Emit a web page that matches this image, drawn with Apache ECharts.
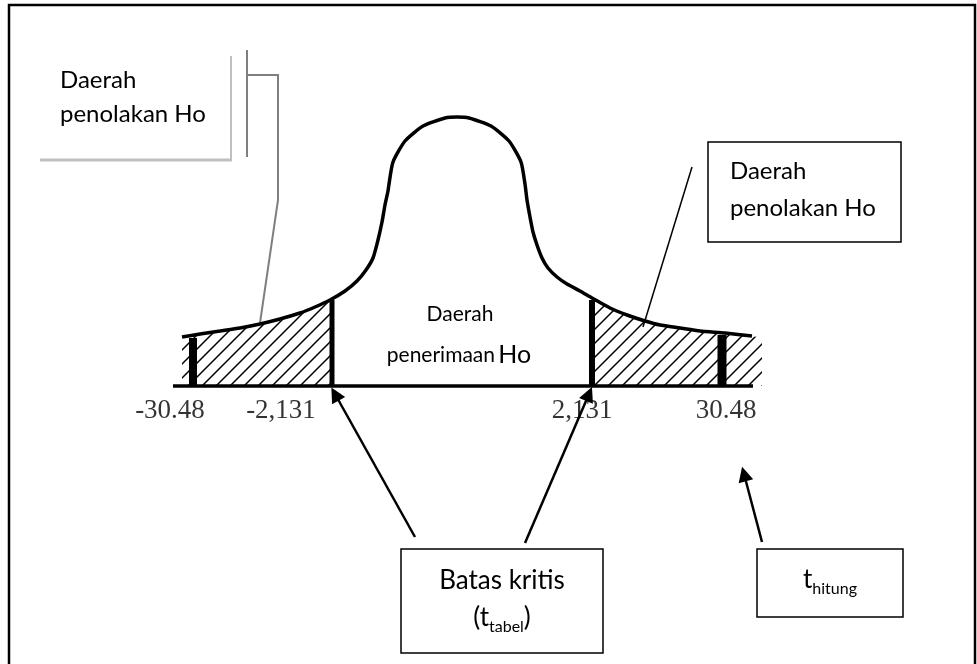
<!DOCTYPE html>
<html>
<head>
<meta charset="utf-8">
<script src="https://cdn.jsdelivr.net/npm/echarts@6/dist/echarts.min.js"></script>
<style>
  html, body { margin: 0; padding: 0; background: #fff; }
  #chart { width: 977px; height: 664px; }
</style>
</head>
<body>
<div id="chart"></div>
<script>
// sketch units: the diagram is laid out on a 977 x 664 plane, y grows downward
const baseY = 386;
const axisX = [173, 753];

// bell curve outline (left tail, left flank, rounded top, right flank, right tail)
const curveX = [182, 200, 220, 240, 260, 280, 300, 315, 330, 345, 357, 366, 373, 378, 382, 385, 388, 389,
  393, 405, 423, 445, 457, 469, 491, 509, 521, 525,
  527, 530, 533, 537, 542, 548, 557, 567, 580, 592, 610, 627, 645, 660, 680, 700, 725, 752];
const curveY = [337, 334, 331, 328, 324, 319, 313, 307, 300, 291, 281, 270, 258, 240, 222, 205, 191, 184,
  162, 141, 126, 118, 117, 118, 126, 141, 162, 184,
  200, 217, 232, 245, 258, 268, 277, 284, 291, 298, 308, 315, 321, 325, 328, 331, 333, 336];

// rejection regions (hatched tails)
const leftTailEnd = 330;
const rightTailStart = 592;
const rightHatchExtra = [762, 338];

// critical values and t statistic marks
const markX = [193, 332, 592, 722];
const markTop = [338, 300, 300, 335];

// tick labels under the axis
const tickLabels = ['-30.48', '-2,131', '2,131', '30.48'];
const tickX = [170, 281, 582, 726];
const tickY = 411;

// arrows from the boxes to the marks
const arrowFrom = [[415, 537], [525, 543], [762, 542]];
const arrowTo = [[335, 394], [589, 394], [744, 474]];

// leader lines from the "Daerah penolakan Ho" labels
const leaderLeft = [[247, 75], [278, 75], [278, 200], [260, 323]];
const leaderLeftBar = [[247, 50], [247, 157]];
const leaderRight = [[692, 167], [643, 327]];

const markWidths = [8, 5, 6, 9];

function zip(xs, ys) {
  return xs.map((x, i) => [x, ys[i]]);
}

function hatchPattern() {
  const s = 14;
  const c = document.createElement('canvas');
  c.width = s;
  c.height = s;
  const g = c.getContext('2d');
  g.strokeStyle = '#000';
  g.lineWidth = 1.5;
  g.beginPath();
  g.moveTo(0, s); g.lineTo(s, 0);
  g.moveTo(-2, 2); g.lineTo(2, -2);
  g.moveTo(s - 2, s + 2); g.lineTo(s + 2, s - 2);
  g.stroke();
  return c;
}

const curve = zip(curveX, curveY);
const leftHatch = curve.filter(p => p[0] <= leftTailEnd);
const rightHatch = curve.filter(p => p[0] >= rightTailStart).concat([rightHatchExtra]);
const hatch = { image: hatchPattern(), repeat: 'repeat' };

const chart = echarts.init(document.getElementById('chart'), null, { renderer: 'canvas' });

const font = 'Lato';

chart.setOption({
  animation: false,
  backgroundColor: '#fff',
  grid: { left: 0, right: 0, top: 0, bottom: 0 },
  xAxis: { type: 'value', min: 0, max: 977, show: false },
  yAxis: { type: 'value', min: 0, max: 664, inverse: true, show: false },
  series: [
    {
      type: 'line', data: leftHatch, smooth: 0.2, symbol: 'none', z: 1,
      lineStyle: { width: 0 },
      areaStyle: { color: hatch, origin: baseY, opacity: 1 }
    },
    {
      type: 'line', data: rightHatch, smooth: 0.2, symbol: 'none', z: 1,
      lineStyle: { width: 0 },
      areaStyle: { color: hatch, origin: baseY, opacity: 1 }
    },
    {
      type: 'line', data: curve, smooth: 0.2, symbol: 'none', z: 3,
      lineStyle: { color: '#000', width: 3.5 }
    },
    {
      type: 'line', data: [[axisX[0], baseY], [axisX[1], baseY]], symbol: 'none', z: 3,
      lineStyle: { color: '#000', width: 3.5 }
    },
    {
      type: 'custom', z: 4,
      data: zip(markX, markTop),
      renderItem(params, api) {
        const top = api.coord([api.value(0), api.value(1)]);
        const bottom = api.coord([api.value(0), baseY]);
        const w = markWidths[params.dataIndex];
        return {
          type: 'rect',
          shape: { x: top[0] - w / 2, y: top[1], width: w, height: bottom[1] - top[1] + 1 },
          style: { fill: '#000' }
        };
      }
    },
    {
      type: 'scatter', symbolSize: 1, z: 5,
      itemStyle: { color: 'rgba(0,0,0,0)' },
      data: tickX.map((x, i) => ({ value: [x, tickY], name: tickLabels[i] })),
      label: {
        show: true, position: 'inside', formatter: '{b}',
        fontFamily: 'Liberation Serif', fontSize: 27, color: '#000'
      }
    },
    {
      type: 'lines', coordinateSystem: 'cartesian2d', z: 6,
      symbol: ['none', 'triangle'], symbolSize: 15,
      lineStyle: { color: '#000', width: 2.5, curveness: 0, opacity: 1 },
      data: arrowFrom.map((p, i) => ({ coords: [p, arrowTo[i]] }))
    },
    {
      type: 'lines', coordinateSystem: 'cartesian2d', polyline: true, z: 2,
      lineStyle: { color: '#7f7f7f', width: 2, opacity: 1 },
      data: [{ coords: leaderLeft }, { coords: leaderLeftBar }]
    },
    {
      type: 'lines', coordinateSystem: 'cartesian2d', z: 2,
      lineStyle: { color: '#000', width: 1.5, opacity: 1 },
      data: [{ coords: leaderRight }]
    }
  ],
  graphic: [
    { type: 'rect', shape: { x: 9, y: 5, width: 966, height: 680 }, style: { fill: 'none', stroke: '#000', lineWidth: 2.5 } },
    // left label, drawn as a text box with a grey shadow edge
    { type: 'line', shape: { x1: 40, y1: 160, x2: 232, y2: 160 }, style: { stroke: '#bfbfbf', lineWidth: 3 } },
    { type: 'line', shape: { x1: 231, y1: 56, x2: 231, y2: 161 }, style: { stroke: '#bfbfbf', lineWidth: 2 } },
    { type: 'text', x: 60, y: 80, style: { text: 'Daerah', font: '24px Lato', fill: '#000', verticalAlign: 'middle' } },
    { type: 'text', x: 60, y: 114, style: { text: 'penolakan Ho', font: '24px Lato', fill: '#000', verticalAlign: 'middle' } },
    // right label box
    { type: 'rect', shape: { x: 708, y: 142, width: 193, height: 100 }, style: { fill: '#fff', stroke: '#000', lineWidth: 1.5 } },
    { type: 'text', x: 730, y: 171, style: { text: 'Daerah', font: '24px Lato', fill: '#000', verticalAlign: 'middle' } },
    { type: 'text', x: 730, y: 208, style: { text: 'penolakan Ho', font: '24px Lato', fill: '#000', verticalAlign: 'middle' } },
    // acceptance region text
    { type: 'text', x: 460, y: 314, z: 10, style: { text: 'Daerah', font: '21px Lato', fill: '#000', align: 'center', verticalAlign: 'middle' } },
    {
      type: 'text', x: 459, y: 352, z: 10,
      style: {
        text: '{s|penerimaan} {b|Ho}', align: 'center', verticalAlign: 'middle', fill: '#000',
        rich: {
          s: { fontFamily: font, fontSize: 21, verticalAlign: 'bottom', lineHeight: 30, padding: [0, 0, 1, 0] },
          b: { fontFamily: font, fontSize: 25, verticalAlign: 'bottom', lineHeight: 30 }
        }
      }
    },
    // critical value box
    { type: 'rect', shape: { x: 401, y: 549, width: 202, height: 104 }, style: { fill: '#fff', stroke: '#000', lineWidth: 1.5 } },
    { type: 'text', x: 502, y: 581, style: { text: 'Batas kritis', font: '26px Lato', fill: '#000', align: 'center', verticalAlign: 'middle' } },
    {
      type: 'text', x: 502, y: 618,
      style: {
        text: '{t|(t}{u|tabel}{t|)}', align: 'center', verticalAlign: 'middle', fill: '#000',
        rich: {
          t: { fontFamily: font, fontSize: 26, lineHeight: 34 },
          u: { fontFamily: font, fontSize: 16, lineHeight: 18, verticalAlign: 'bottom' }
        }
      }
    },
    // t statistic box
    { type: 'rect', shape: { x: 757, y: 549, width: 146, height: 68 }, style: { fill: '#fff', stroke: '#000', lineWidth: 1.5 } },
    {
      type: 'text', x: 830, y: 580,
      style: {
        text: '{t|t}{u|hitung}', align: 'center', verticalAlign: 'middle', fill: '#000',
        rich: {
          t: { fontFamily: font, fontSize: 26, lineHeight: 34 },
          u: { fontFamily: font, fontSize: 16, lineHeight: 18, verticalAlign: 'bottom' }
        }
      }
    }
  ]
});
</script>
</body>
</html>
